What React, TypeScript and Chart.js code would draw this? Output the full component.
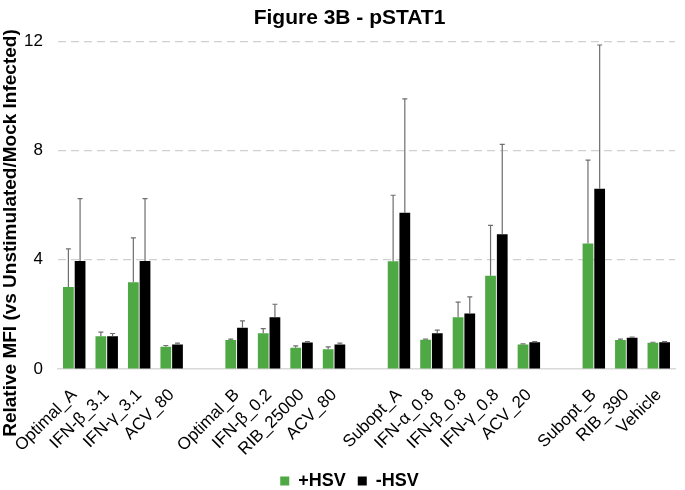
import React, { useEffect, useRef } from "react";
import { Chart, registerables } from "chart.js";

Chart.register(...registerables);

const categories = [
  "Optimal_A", "IFN-β_3.1", "IFN-γ_3.1", "ACV_80", "",
  "Optimal_B", "IFN-β_0.2", "RIB_25000", "ACV_80", "",
  "Subopt_A", "IFN-α_0.8", "IFN-β_0.8", "IFN-γ_0.8", "ACV_20", "",
  "Subopt_B", "RIB_390", "Vehicle",
];

const plusHSV = [3.0, 1.2, 3.18, 0.81, null, 1.06, 1.31, 0.78, 0.72, null, 3.94, 1.07, 1.89, 3.41, 0.9, null, 4.59, 1.06, 0.96];
const plusHSVErr = [1.4, 0.15, 1.62, 0.05, null, 0.03, 0.17, 0.07, 0.09, null, 2.42, 0.02, 0.56, 1.85, 0.02, null, 3.06, 0.03, 0.02];
const minusHSV = [3.95, 1.2, 3.95, 0.9, null, 1.51, 1.89, 0.97, 0.9, null, 5.72, 1.31, 2.03, 4.93, 0.98, null, 6.6, 1.14, 0.98];
const minusHSVErr = [2.29, 0.1, 2.29, 0.05, null, 0.25, 0.48, 0.03, 0.05, null, 4.17, 0.11, 0.61, 3.29, 0.02, null, 5.26, 0.03, 0.02];

const yTicks = [0, 4, 8, 12];
const yTitle = "Relative MFI (vs Unstimulated/Mock Infected)";

const FONT = "'Liberation Sans', Arial, sans-serif";

const errorBarPlugin = {
  id: "errorBars",
  afterDatasetsDraw(chart: any) {
    const ctx = chart.ctx;
    const yScale = chart.scales.y;
    chart.data.datasets.forEach((ds: any, di: number) => {
      const meta = chart.getDatasetMeta(di);
      const errs = ds.errors as (number | null)[];
      meta.data.forEach((el: any, i: number) => {
        const v = ds.data[i];
        const e = errs[i];
        if (v == null || e == null) return;
        const x = el.x;
        const y0 = yScale.getPixelForValue(v);
        const y1 = yScale.getPixelForValue(v + e);
        ctx.save();
        ctx.strokeStyle = "#6e6e6e";
        ctx.lineWidth = 1.2;
        ctx.beginPath();
        ctx.moveTo(x, y0);
        ctx.lineTo(x, y1);
        ctx.moveTo(x - 2.5, y1);
        ctx.lineTo(x + 2.5, y1);
        ctx.stroke();
        ctx.restore();
      });
    });
  },
};

const yTitlePlugin = {
  id: "yTitle",
  afterDraw(chart: any) {
    const ctx = chart.ctx;
    ctx.save();
    ctx.translate(11, 233);
    ctx.rotate(-Math.PI / 2);
    ctx.font = "bold 19px " + FONT;
    ctx.fillStyle = "#000";
    ctx.textAlign = "center";
    ctx.textBaseline = "middle";
    ctx.fillText(yTitle, 0, 0);
    ctx.restore();
  },
};

export default function App() {
  const ref = useRef<HTMLCanvasElement>(null);
  useEffect(() => {
    if (!ref.current) return;
    const chart = new Chart(ref.current, {
      type: "bar",
      data: {
        labels: categories,
        datasets: [
          {
            label: "+HSV",
            data: plusHSV as any,
            errors: plusHSVErr,
            backgroundColor: "#4ea843",
            categoryPercentage: 0.72,
            barPercentage: 0.92,
          } as any,
          {
            label: "-HSV",
            data: minusHSV as any,
            errors: minusHSVErr,
            backgroundColor: "#000000",
            categoryPercentage: 0.72,
            barPercentage: 0.92,
          } as any,
        ],
      },
      options: {
        animation: false,
        responsive: true,
        maintainAspectRatio: false,
        layout: { padding: { left: 24, right: 10, top: 0, bottom: 0 } },
        plugins: {
          title: {
            display: true,
            text: "Figure 3B - pSTAT1",
            color: "#000",
            font: { family: "'Liberation Sans Narrow', 'Liberation Sans', Arial, sans-serif", size: 21, weight: "bold" },
            padding: { top: 6, bottom: 10 },
          },
          legend: {
            position: "bottom",
            maxHeight: 30,
            labels: {
              color: "#000",
              boxWidth: 9,
              boxHeight: 9,
              padding: 12,
              font: { family: FONT, size: 18, weight: "bold" },
            },
          },
          tooltip: { enabled: false },
        },
        scales: {
          x: {
            grid: { display: false },
            border: { display: true, color: "#d9d9d9", width: 1.5 },
            afterFit: (scale: any) => {
              scale.paddingLeft = 0;
              scale.height = 91;
            },
            ticks: {
              color: "#000",
              autoSkip: false,
              maxRotation: 45,
              minRotation: 45,
              font: { family: FONT, size: 17 },
              padding: 8,
            },
          },
          y: {
            min: 0,
            max: 12,
            afterBuildTicks: (axis: any) => {
              axis.ticks = yTicks.map((v) => ({ value: v }));
            },
            afterFit: (scale: any) => {
              scale.width = 34;
            },
            grid: {
              color: (c: any) => (c.tick && c.tick.value === 0 ? "rgba(0,0,0,0)" : "#d0d0d0"),
              lineWidth: 1.2,
              drawTicks: false,
            },
            border: { display: false, dash: [8, 5] },
            ticks: {
              color: "#000",
              font: { family: FONT, size: 17 },
              padding: 15,
            },
          },
        },
      },
      plugins: [errorBarPlugin, yTitlePlugin],
    });
    return () => chart.destroy();
  }, []);
  return (
    <div style={{ position: "fixed", left: 0, top: 0, width: 685, height: 490, background: "#fff" }}>
      <canvas ref={ref} />
    </div>
  );
}
